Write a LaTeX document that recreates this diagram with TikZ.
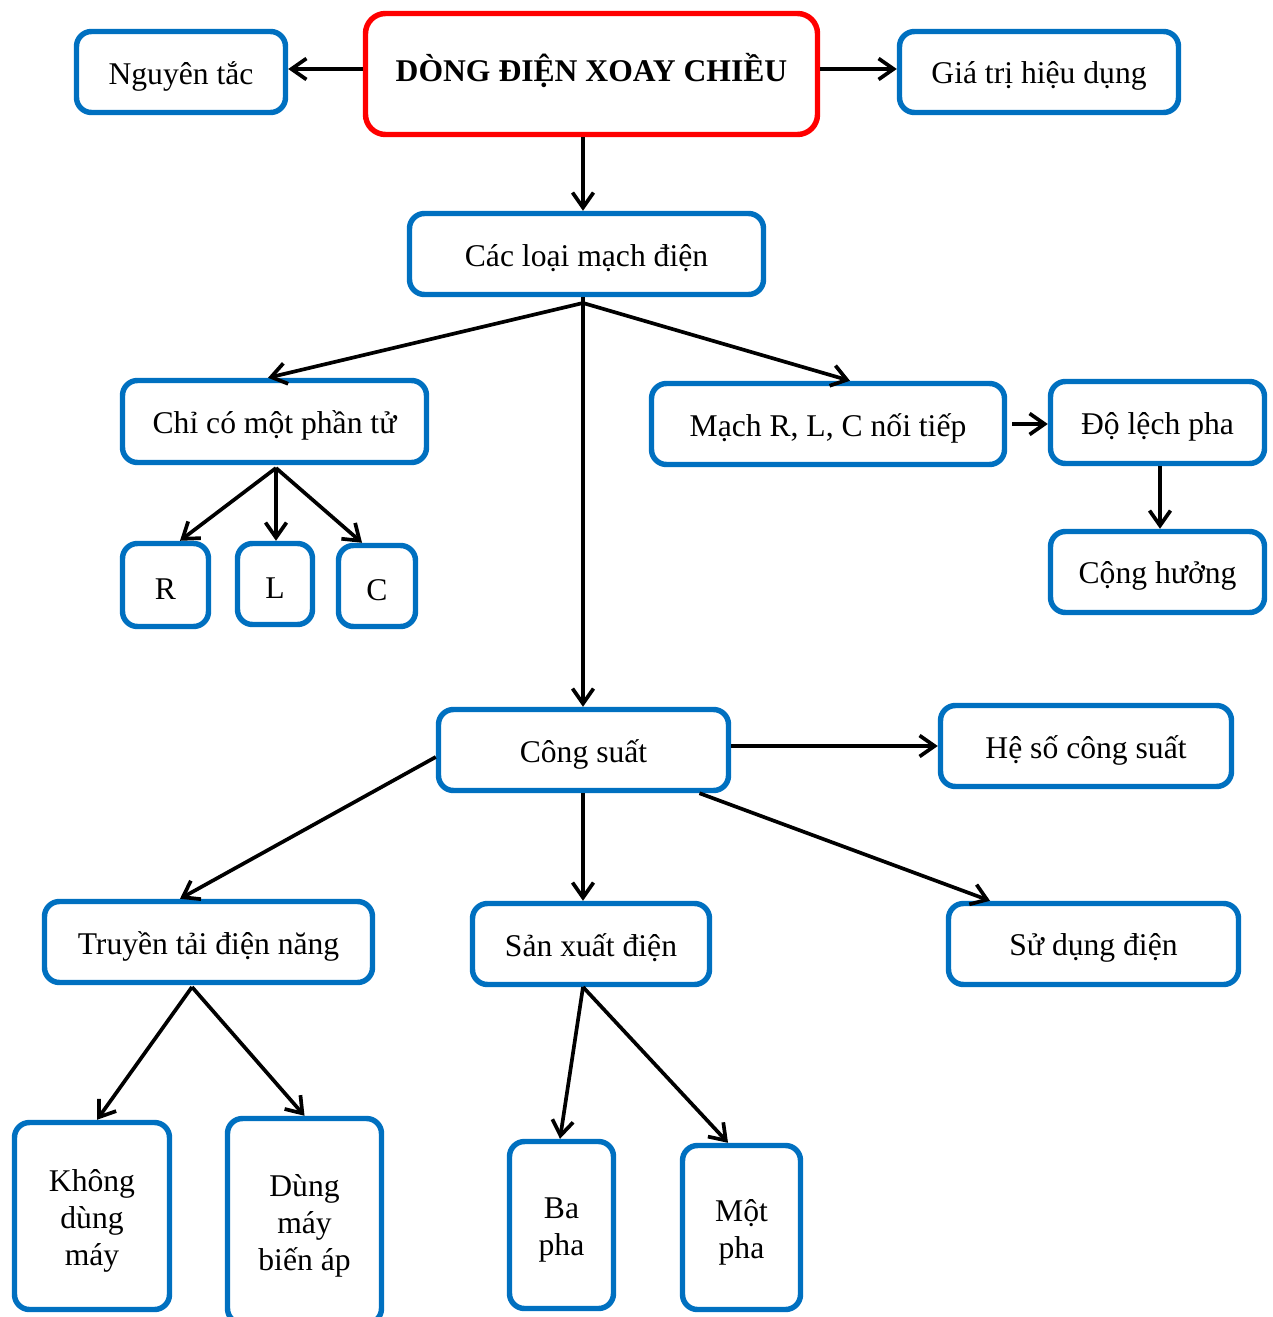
\documentclass[tikz,border=0pt]{standalone}
\usepackage{fontspec}
\setmainfont{Liberation Serif}
\usetikzlibrary{arrows.meta,positioning,calc}
\definecolor{boxblue}{HTML}{0070C0}
\definecolor{boxred}{HTML}{FF0000}
% single-line label, lowered a little inside its box
\newcommand\tx[1]{\raisebox{-0.08cm}[\height][\depth]{#1}}
% stacked label for the tall boxes
\newcommand\mltx[1]{\raisebox{-0.1cm}[\height][\depth]{\begin{tabular}{@{}c@{}}#1\end{tabular}}}
\begin{document}
\begin{tikzpicture}[x=0.02cm,y=-0.02cm,
  box/.style={draw=boxblue, line width=3.1pt, rounded corners=0.3cm, fill=white,
    align=center, inner sep=0pt, font=\fontsize{18}{21}\selectfont},
  sz/.style 2 args={minimum width=#1*0.02cm, minimum height=#2*0.02cm},
  arr/.style={draw=black, line width=2.1pt, -{Straight Barb[length=0.3cm,width=0.42cm,line width=2.1pt]}},
  ln/.style={draw=black, line width=2.1pt}]
\useasboundingbox (0,0) rectangle (1272,1317);
\clip (0,0) rectangle (1272,1317);

% top level
\node[box, draw=boxred, rounded corners=0.4cm, sz={452}{121}, font=\bfseries\fontsize{18}{21}\selectfont] (top) at (591.5,74) {\raisebox{0.07cm}[\height][\depth]{DÒNG ĐIỆN XOAY CHIỀU}};
\node[box, sz={209}{81}] (nguyen) at (181,72) {\tx{Nguyên tắc}};
\node[box, sz={279}{81}] (giatri) at (1039,72) {\tx{Giá trị hiệu dụng}};

% circuits
\node[box, sz={354}{81}] (cacloai) at (586.5,254) {\tx{Các loại mạch điện}};
\node[box, sz={304}{82}] (chico) at (274.5,421.5) {\tx{Chỉ có một phần tử}};
\node[box, sz={353}{81}] (mach) at (828,424) {\tx{Mạch R, L, C nối tiếp}};
\node[box, sz={214}{82}] (dolech) at (1157.5,422.5) {\tx{Độ lệch pha}};
\node[box, sz={214}{81}] (conghuong) at (1157.5,572) {\tx{Cộng hưởng}};
\node[box, sz={86}{83}] (R) at (165.5,585) {\tx{R}};
\node[box, sz={75}{81}] (L) at (275,584) {\tx{L}};
\node[box, sz={77}{81}] (C) at (377,586) {\tx{C}};

% power
\node[box, sz={290}{81}] (congsuat) at (583.5,750) {\tx{Công suất}};
\node[box, sz={291}{81}] (heso) at (1086,746) {\tx{Hệ số công suất}};
\node[box, sz={328}{81}] (truyen) at (208.5,942) {\tx{Truyền tải điện năng}};
\node[box, sz={237}{81}] (sanxuat) at (591,944) {\tx{Sản xuất điện}};
\node[box, sz={290}{81}] (sudung) at (1093.5,944) {\tx{Sử dụng điện}};
\node[box, sz={155}{187}] (khong) at (92,1216) {\mltx{Không\\dùng\\máy}};
\node[box, sz={154}{205}] (dung) at (304.5,1221) {\mltx{Dùng\\máy\\biến áp}};
\node[box, sz={104}{167}] (bapha) at (561.5,1225) {\mltx{Ba\\pha}};
\node[box, sz={118}{164}] (motpha) at (741.5,1227.5) {\mltx{Một\\pha}};

% branching points
\coordinate (j1) at (583,303);
\coordinate (j2) at (276,468);
\coordinate (j3) at (192,987);
\coordinate (j4) at (583,987);

% connectors
\draw[arr] ([yshift=0.1cm]top.west) -- ([yshift=0.06cm]nguyen.east);
\draw[arr] ([yshift=0.1cm]top.east) -- ([yshift=0.06cm]giatri.west);
\draw[arr] (top.south -| j1) -- (cacloai.north -| j1);
\draw[ln] (cacloai.south -| j1) -- (j1);
\draw[arr] (j1) -- ([xshift=-0.13cm]chico.north);
\draw[arr] (j1) -- (congsuat.north -| j1);
\draw[arr] (j1) -- ([xshift=0.44cm]mach.north);
\draw[arr, shorten <=0.1cm] (mach.east) -- (mach.east -| dolech.west);
\draw[arr] ([xshift=0.05cm]dolech.south) -- ([xshift=0.05cm]conghuong.north);
\draw[arr] (j2) -- ([xshift=0.29cm]R.north);
\draw[arr] (j2) -- (L.north -| j2);
\draw[arr] (j2) -- ([xshift=-0.3cm]C.north);
\draw[arr] (congsuat.east |- heso.west) -- (heso.west);
\draw[arr] ([yshift=-0.14cm]congsuat.west) -- ([xshift=-0.57cm]truyen.north);
\draw[arr] (congsuat.south -| j4) -- (sanxuat.north -| j4);
\draw[arr] ([xshift=2.32cm]congsuat.south) -- ([xshift=-2.07cm]sudung.north);
\draw[arr] (j3) -- ([xshift=0.1cm]khong.north);
\draw[arr] (j3) -- (dung.north);
\draw[arr] (j4) -- ([xshift=-0.03cm]bapha.north);
\draw[arr] (j4) -- ([xshift=-0.27cm]motpha.north);
\end{tikzpicture}
\end{document}
